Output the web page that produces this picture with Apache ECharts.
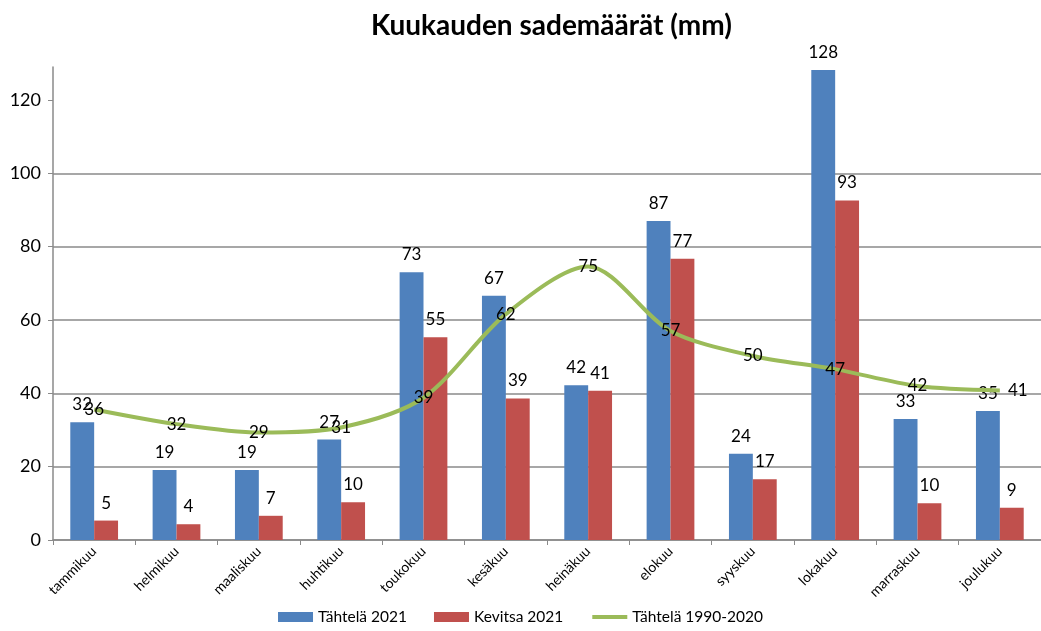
<!DOCTYPE html>
<html>
<head>
<meta charset="utf-8">
<script src="https://cdn.jsdelivr.net/npm/echarts@6/dist/echarts.min.js"></script>
<style>
  html, body { margin: 0; padding: 0; background: #fff; }
  #chart { width: 1041px; height: 631px; }
</style>
</head>
<body>
<div id="chart"></div>
<script>
// kuukaudet
var months = ['tammikuu', 'helmikuu', 'maaliskuu', 'huhtikuu', 'toukokuu', 'kesäkuu',
  'heinäkuu', 'elokuu', 'syyskuu', 'lokakuu', 'marraskuu', 'joulukuu'];
// sademäärät (mm), luettu kuvasta
var tahtela2021 = [32.1, 19.1, 19.1, 27.4, 73, 66.6, 42.2, 87, 23.5, 128.2, 33, 35.2];
var kevitsa2021 = [5.3, 4.3, 6.6, 10.3, 55.3, 38.6, 40.7, 76.7, 16.6, 92.6, 10, 8.8];
var tahtela9020 = [35.6, 31.6, 29.3, 30.7, 38.8, 61.6, 74.6, 57, 50.2, 46.6, 42, 40.8];
var yTicks = [0, 20, 40, 60, 80, 100, 120];

var chart = echarts.init(document.getElementById('chart'));
var font = 'Lato, "Open Sans", sans-serif';
var round = function (p) { return Math.round(p.value); };

// viimeisen pisteen nimiö oikealle, kuten alkuperäisessä
var lineData = tahtela9020.map(function (v, i) {
  return i === tahtela9020.length - 1 ? { value: v, label: { offset: [18, 0] } } : v;
});

var option = {
  animation: false,
  textStyle: { fontFamily: font, color: '#000' },
  title: {
    text: 'Kuukauden sademäärät (mm)',
    left: 366,
    top: 7,
    textStyle: { fontFamily: font, fontSize: 28, fontWeight: 'bold', color: '#000' }
  },
  legend: {
    bottom: 1,
    left: 'center',
    itemWidth: 35,
    itemHeight: 10,
    itemGap: 27,
    textStyle: { fontFamily: font, fontSize: 15.5, color: '#000' },
    data: [
      { name: 'Tähtelä 2021', icon: 'rect' },
      { name: 'Kevitsa 2021', icon: 'rect' },
      { name: 'Tähtelä 1990-2020', itemStyle: { opacity: 0 }, lineStyle: { width: 4 } }
    ]
  },
  grid: { left: 53, right: -15, top: 67, bottom: 91 },
  xAxis: {
    type: 'category',
    data: months,
    axisLine: { lineStyle: { color: '#8a8a8a', width: 1.5 } },
    axisTick: { show: true, length: 5, lineStyle: { color: '#8a8a8a' } },
    axisLabel: { rotate: 45, fontSize: 14, color: '#000', margin: 9, fontFamily: font }
  },
  yAxis: {
    type: 'value',
    min: 0,
    max: 129,
    interval: 20,
    axisLine: { show: true, lineStyle: { color: '#8a8a8a', width: 1.5 } },
    axisTick: { show: true, length: 5, customValues: yTicks, lineStyle: { color: '#8a8a8a' } },
    axisLabel: { fontSize: 18, color: '#000', margin: 12, customValues: yTicks, fontFamily: font },
    splitLine: { showMaxLine: false, lineStyle: { color: '#8a8a8a', width: 1.5 } }
  },
  series: [
    {
      name: 'Tähtelä 2021',
      type: 'bar',
      data: tahtela2021,
      barGap: '0%',
      barCategoryGap: '42%',
      itemStyle: { color: '#4f81bd' },
      label: { show: true, position: 'top', distance: 9, fontSize: 17, color: '#000', fontFamily: font, formatter: round }
    },
    {
      name: 'Kevitsa 2021',
      type: 'bar',
      data: kevitsa2021,
      itemStyle: { color: '#c0504d' },
      label: { show: true, position: 'top', distance: 9, fontSize: 17, color: '#000', fontFamily: font, formatter: round }
    },
    {
      name: 'Tähtelä 1990-2020',
      type: 'line',
      data: lineData,
      smooth: 0.3,
      symbol: 'circle',
      symbolSize: 0.1,
      z: 5,
      itemStyle: { color: '#9bbb59' },
      lineStyle: { color: '#9bbb59', width: 4 },
      label: { show: true, position: 'inside', fontSize: 17, color: '#000', fontFamily: font, formatter: round }
    }
  ]
};

chart.setOption(option);
</script>
</body>
</html>
